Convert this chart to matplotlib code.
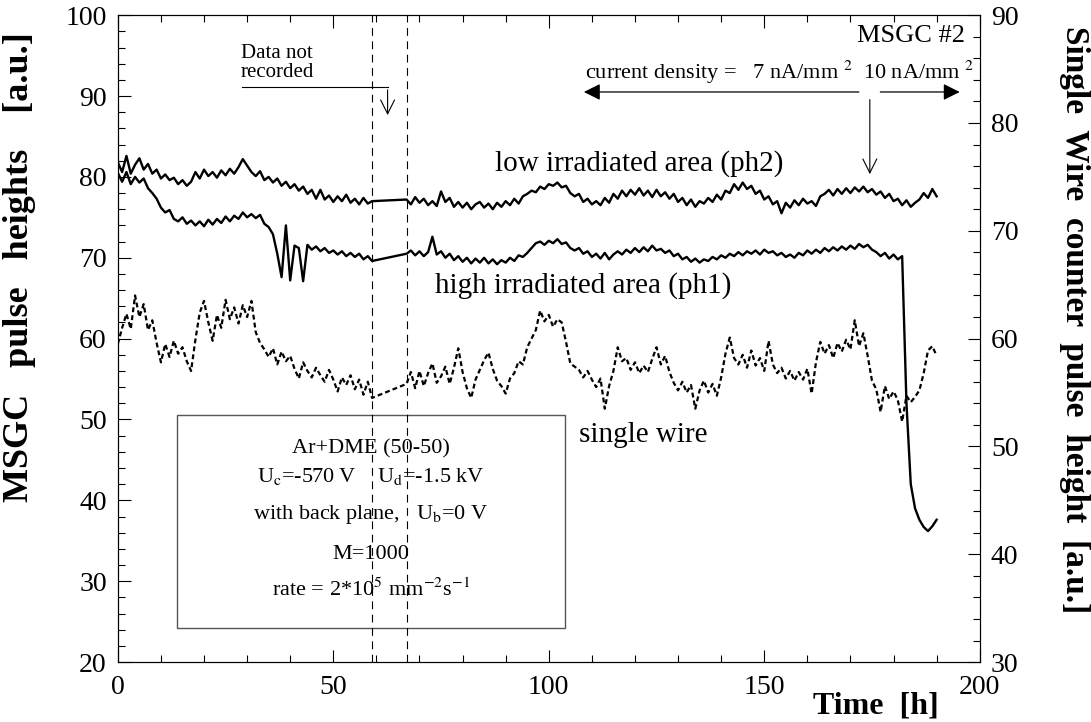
import numpy as np
import matplotlib
matplotlib.use("Agg")
from matplotlib import pyplot as plt
from matplotlib.ticker import MultipleLocator

plt.rcParams['font.family'] = ['Liberation Serif', 'DejaVu Serif']
plt.rcParams['mathtext.fontset'] = 'stix'

# time axis [h]: data missing between 59 h and 67 h
time_h = list(range(0, 60)) + list(range(67, 191))

# low irradiated area (ph2), left axis
ph2 = [81.8, 80.6, 82.6, 80.4, 81.5, 82.3, 80.9, 81.6, 80.4, 80.9,
       79.8, 80.3, 79.6, 79.9, 79.1, 79.6, 78.9, 79.4, 80.6, 79.8,
       80.9, 80.1, 80.6, 79.9, 80.8, 80.2, 81.0, 80.4, 81.2, 82.2,
       81.4, 80.6, 80.1, 80.7, 79.6, 80.0, 79.3, 79.8, 78.9, 79.4,
       78.6, 79.1, 78.3, 78.8, 77.9, 78.4, 77.3, 78.4, 77.2, 77.7,
       76.9, 77.6, 77.0, 77.8, 76.8, 77.3, 76.6, 77.4, 76.7, 77.0,
       77.2, 76.6, 77.5, 76.8, 77.3, 76.5, 77.0, 76.4, 78.2, 76.9,
       77.4, 76.3, 76.9, 76.2, 76.8, 76.0, 76.6, 76.9, 76.2, 76.7,
       76.0, 76.8, 76.3, 77.0, 76.5, 77.3, 76.7, 77.6, 77.9, 78.3,
       78.1, 78.8, 78.5, 79.1, 78.9, 79.3, 78.7, 78.9, 78.0, 77.6,
       77.9, 76.9, 77.3, 76.6, 77.0, 76.5, 77.4, 76.8, 77.9, 77.3,
       78.3, 77.6, 78.4, 77.8, 78.6, 77.7, 78.3, 77.5, 78.4, 77.6,
       78.1, 77.3, 77.9, 76.9, 77.4, 76.5, 77.2, 76.3, 77.0, 76.7,
       77.4, 76.9, 77.8, 77.2, 78.3, 78.0, 79.1, 78.4, 79.3, 78.5,
       78.9, 77.9, 78.3, 77.2, 77.6, 76.6, 77.0, 75.5, 76.8, 76.2,
       77.1, 76.5, 77.3, 76.7, 77.0, 76.4, 77.6, 77.9, 78.4, 77.7,
       78.5, 77.9, 78.6, 78.0, 78.7, 78.2, 78.8, 78.1, 78.5, 77.8,
       78.2, 77.4, 77.9, 77.0, 77.3, 76.5, 77.1, 76.3, 76.8, 77.2,
       78.0, 77.4, 78.5, 77.6]

# high irradiated area (ph1), left axis
ph1 = [80.5, 79.4, 80.6, 79.1, 80.0, 79.3, 79.8, 78.6, 78.0, 77.3,
       76.2, 75.6, 75.9, 74.8, 74.5, 75.0, 74.2, 74.6, 74.0, 74.5,
       73.9, 74.7, 74.1, 74.8, 74.3, 75.1, 74.5, 75.2, 74.8, 75.6,
       75.0, 75.4, 74.9, 75.3, 74.2, 73.8, 72.9, 70.5, 67.6, 74.0,
       67.2, 71.5, 71.2, 67.1, 71.6, 71.0, 71.4, 70.8, 71.2, 70.6,
       70.9, 70.4, 70.8, 70.2, 70.6, 70.1, 70.5, 69.8, 70.2, 69.6,
       70.5, 70.9, 70.3, 70.8, 70.2, 70.7, 72.6, 70.4, 70.8, 70.0,
       70.5, 69.7, 70.2, 69.5, 70.0, 69.3, 69.9, 69.4, 70.0, 69.3,
       69.8, 69.2, 69.7, 69.4, 70.0, 69.6, 70.3, 70.1, 70.6, 71.2,
       71.8, 72.0, 71.6, 72.1, 71.8, 72.3, 71.7, 71.9, 71.2, 70.9,
       71.2, 70.5, 70.8, 70.1, 70.5, 69.9, 70.6, 69.8, 70.4, 70.8,
       70.4, 71.0, 70.6, 71.2, 70.7, 71.3, 70.8, 71.5, 70.9, 71.1,
       70.6, 70.9, 70.2, 70.5, 69.8, 70.1, 69.5, 69.9, 69.4, 69.8,
       69.6, 70.1, 69.8, 70.3, 70.0, 70.5, 70.2, 70.7, 70.3, 70.8,
       70.5, 70.9, 70.4, 71.0, 70.6, 70.8, 70.3, 70.6, 70.1, 70.4,
       70.0, 70.6, 70.3, 70.9, 70.5, 71.0, 70.6, 71.2, 70.8, 71.3,
       70.9, 71.4, 71.0, 71.5, 71.1, 71.7, 71.3, 71.6, 71.0, 70.7,
       70.2, 70.6, 69.9, 70.4, 69.8, 70.2, 52.0, 42.0, 39.0, 37.6,
       36.7, 36.2, 36.8, 37.6]

# single wire counter, right axis
single_wire = [59.5, 61.0, 62.3, 60.9, 64.0, 62.0, 63.2, 60.8, 61.7, 59.6,
               57.8, 59.5, 58.3, 59.8, 58.6, 59.2, 57.9, 57.0, 59.9, 62.4,
               63.5, 61.5, 59.8, 62.2, 61.0, 63.6, 61.8, 62.9, 61.4, 63.1,
               62.0, 63.5, 60.6, 59.6, 59.0, 58.3, 59.1, 57.6, 58.8, 57.9,
               58.4, 57.2, 56.3, 57.8, 57.0, 56.4, 57.3, 56.6, 56.0, 57.1,
               56.2, 55.1, 56.4, 55.7, 56.6, 55.3, 56.2, 54.8, 56.0, 54.5,
               55.8, 56.9, 55.4, 57.0, 55.6, 56.8, 57.7, 55.9, 56.5, 57.4,
               55.8, 57.3, 59.1, 56.9, 55.4, 54.5, 56.2, 57.1, 58.0, 58.7,
               57.2, 56.1, 55.6, 54.9, 56.3, 56.8, 57.9, 57.6, 59.2, 60.0,
               60.8, 62.6, 61.6, 62.2, 61.1, 61.8, 61.5, 59.7, 57.7, 57.4,
               57.1, 56.4, 57.0, 56.2, 55.5, 56.3, 53.5, 55.6, 57.0, 59.2,
               57.9, 58.2, 57.1, 57.8, 56.8, 57.5, 56.9, 58.1, 59.2, 57.6,
               58.4, 56.9, 55.9, 55.2, 56.0, 55.0, 55.7, 53.5, 55.2, 56.1,
               55.0, 55.8, 54.7, 56.4, 58.6, 60.1, 58.2, 57.6, 58.5, 57.3,
               58.9, 57.5, 58.2, 57.0, 59.8, 57.6, 56.8, 57.3, 56.3, 57.0,
               56.1, 56.9, 56.2, 57.2, 54.9, 57.8, 59.7, 58.6, 59.4, 58.2,
               59.6, 58.8, 59.9, 59.0, 61.7, 59.3, 60.5, 58.4, 56.1, 55.3,
               53.2, 55.6, 54.4, 55.1, 54.3, 52.3, 54.7, 54.1, 54.6, 55.2,
               56.8, 58.9, 59.3, 58.4]

gap_start, gap_end = 59, 67

fig = plt.figure(figsize=(10.91, 7.22), dpi=100)
ax = fig.add_axes([0.108, 0.083, 0.79, 0.896])
ax2 = ax.twinx()

ax.plot(time_h, ph2, color='black', lw=1.7)
ax.plot(time_h, ph1, color='black', lw=1.7)
ax2.plot(time_h, single_wire, color='black', lw=1.6, ls=(0, (2.2, 1.4)))

ax.set_xlim(0, 200)
ax.set_ylim(20, 100)
ax2.set_ylim(30, 90)

ax.xaxis.set_major_locator(MultipleLocator(50))
ax.xaxis.set_minor_locator(MultipleLocator(10))
ax.yaxis.set_major_locator(MultipleLocator(10))
ax.yaxis.set_minor_locator(MultipleLocator(2))
ax2.yaxis.set_major_locator(MultipleLocator(10))
ax2.yaxis.set_minor_locator(MultipleLocator(2))

ax.tick_params(axis='x', which='both', direction='in', top=True, labelsize=20, pad=9)
ax.tick_params(axis='y', which='both', direction='in', right=False, labelsize=20, pad=8)
ax.tick_params(which='major', length=9, width=0.8)
ax.tick_params(which='minor', length=5, width=0.8)
ax2.tick_params(axis='y', which='both', direction='in', labelsize=20, pad=8)
ax2.tick_params(which='major', length=9, width=0.8)
ax2.tick_params(which='minor', length=5, width=0.8)
for a in (ax, ax2):
    for s in a.spines.values():
        s.set_linewidth(0.8)

ax.set_ylabel('MSGC   pulse   heights    [a.u.]', fontsize=26, fontweight='bold',
              va='center')
ax.yaxis.set_label_coords(-0.114, 0.61)
ax2.set_ylabel('Single  Wire  counter  pulse  height  [a.u.]', fontsize=24,
               fontweight='bold', rotation=270, va='center')
ax2.yaxis.set_label_coords(1.11, 0.53)
ax.set_xlabel('Time  [h]', fontsize=23, fontweight='bold')
ax.xaxis.set_label_coords(0.879, -0.045)

# data gap markers
for xv in (gap_start, gap_end):
    ax.axvline(xv, color='black', lw=0.8, ls=(0, (7, 5)))

ax.text(37, 94.1, 'Data not\nrecorded', fontsize=15, ha='center', va='center', linespacing=0.95)
ax.plot([28.8, 62.6], [91.1, 91.1], color='black', lw=0.8)
ax.annotate('', xy=(62.6, 87.3), xytext=(62.6, 91.1),
            arrowprops=dict(arrowstyle='->', lw=0.8, color='black', mutation_scale=25))

# current density annotation
ax.text(196.5, 97.4, 'MSGC #2', fontsize=19, ha='right', va='center')
ax.text(108.5, 92.9, 'current density =   7 nA/mm $^2$  10 nA/mm $^2$', fontsize=16,
        ha='left', va='center')
ax.annotate('', xy=(107.5, 90.5), xytext=(172.6, 90.5),
            arrowprops=dict(arrowstyle='-|>', lw=0.9, color='black', mutation_scale=25))
ax.annotate('', xy=(196, 90.5), xytext=(176.3, 90.5),
            arrowprops=dict(arrowstyle='-|>', lw=0.9, color='black', mutation_scale=25))
ax.annotate('', xy=(174.5, 80.0), xytext=(174.5, 89.9),
            arrowprops=dict(arrowstyle='->', lw=0.8, color='black', mutation_scale=25))

# curve labels
ax.text(121, 81.6, 'low irradiated area (ph2)', fontsize=21, ha='center', va='center')
ax.text(108, 66.6, 'high irradiated area (ph1)', fontsize=21, ha='center', va='center')
ax.text(122, 48.1, 'single wire', fontsize=21, ha='center', va='center')

# conditions box
box = plt.Rectangle((13.7, 24.2), 90.0, 26.4, fill=False, edgecolor='#555555', lw=1.0)
ax.add_patch(box)
box_lines = [(46.4, 'Ar+DME (50-50)'),
             (42.9, r'U$_{\rm c}$=-570 V    U$_{\rm d}$=-1.5 kV'),
             (38.2, r'with back plane,   U$_{\rm b}$=0 V'),
             (33.3, 'M=1000'),
             (28.9, r'rate = 2*10$^5$ mm$^{-2}$s$^{-1}$')]
for yv, txt in box_lines:
    ax.text(58.7, yv, txt, fontsize=16, ha='center', va='center')

fig.savefig('out.png', dpi=100)
